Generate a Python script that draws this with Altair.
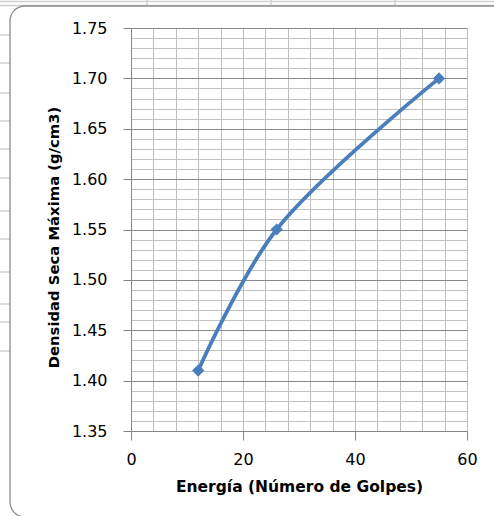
import altair as alt
import pandas as pd

# Data
golpes = [12, 26, 55]
densidad = [1.41, 1.55, 1.70]

x_ticks = [0, 20, 40, 60]
x_minor = [0, 4, 8, 12, 16, 20, 24, 28, 32, 36, 40, 44, 48, 52, 56, 60]
y_ticks = [1.35, 1.40, 1.45, 1.50, 1.55, 1.60, 1.65, 1.70, 1.75]
y_minor = [round(1.35 + 0.01 * i, 2) for i in range(41)]

df = pd.DataFrame({"golpes": golpes, "densidad": densidad})
frame = pd.DataFrame({"k": [0]})

xs = alt.Scale(domain=[0, 60], nice=False, zero=False)
ys = alt.Scale(domain=[1.35, 1.75], nice=False, zero=False)

BLUE = "#4A7EBB"
SHEET = "#d0d0d0"

# --- decorative spreadsheet lines behind the chart (pixel offsets from plot origin) ---
deco = []
for yy in [-26.5, -22.5]:
    deco.append(alt.Chart(frame).mark_rule(color=SHEET, strokeWidth=1.5).encode(
        x=alt.value(-131), x2=alt.value(363), y=alt.value(yy)))
for xx in [16, 140, 264]:
    deco.append(alt.Chart(frame).mark_rule(color=SHEET, strokeWidth=1.5).encode(
        x=alt.value(xx), y=alt.value(-28), y2=alt.value(-22)))
for yy in [35, 63, 93, 121, 149, 178, 211, 239, 272, 304, 322, 351]:
    deco.append(alt.Chart(frame).mark_rule(color=SHEET, strokeWidth=1.5).encode(
        x=alt.value(-131), x2=alt.value(-121), y=alt.value(yy - 28)))

# rounded chart-area frame (its right/bottom sides run past the window edge)
border = alt.Chart(frame).mark_rect(
    fill=None, stroke="#8c8c8c", strokeWidth=1.3, cornerRadius=15
).encode(
    x=alt.value(-121), x2=alt.value(420),
    y=alt.value(-22), y2=alt.value(489),
)

minor = alt.Chart(df).mark_point(opacity=0).encode(
    x=alt.X("golpes:Q", scale=xs, axis=alt.Axis(
        values=x_minor, grid=True, gridColor="#bdbdbd", gridWidth=1,
        labels=False, ticks=False, domain=False, title=None, orient="bottom")),
    y=alt.Y("densidad:Q", scale=ys, axis=alt.Axis(
        values=y_minor, grid=True, gridColor="#c2c2c2", gridWidth=1,
        labels=False, ticks=False, domain=False, title=None, orient="left")),
)

major = alt.Chart(df).mark_point(opacity=0).encode(
    x=alt.X("golpes:Q", scale=xs, axis=alt.Axis(
        values=x_ticks, grid=False, title="Energía (Número de Golpes)",
        tickSize=9, tickColor="#868686", domainColor="#868686",
        labelFlush=False, labelPadding=11,
        titleFontSize=15.5, titleX=168, titleY=55, titleBaseline="middle",
        orient="bottom")),
    y=alt.Y("densidad:Q", scale=ys, axis=alt.Axis(
        values=y_ticks, format=".2f", grid=True, gridColor="#8a8a8a",
        title="Densidad Seca Máxima (g/cm3)",
        tickSize=8, tickColor="#868686", domainColor="#868686",
        labelFlush=False, labelPadding=16,
        titleFontSize=14.8, titleX=-77, titleY=209, titleBaseline="middle",
        orient="left")),
)

line = alt.Chart(df).mark_line(
    interpolate="catmull-rom", color=BLUE, strokeWidth=3.8
).encode(
    x=alt.X("golpes:Q", scale=xs, axis=None),
    y=alt.Y("densidad:Q", scale=ys, axis=None),
)

pts = alt.Chart(df).mark_point(
    shape="diamond", filled=True, size=150, color=BLUE, opacity=1
).encode(
    x=alt.X("golpes:Q", scale=xs, axis=None),
    y=alt.Y("densidad:Q", scale=ys, axis=None),
)

chart = alt.layer(*deco, border, minor, major, line, pts).resolve_axis(
    x="independent", y="independent"
).properties(
    width=336, height=403,
    padding={"left": 131, "top": 28, "right": 27, "bottom": 85},
    autosize=alt.AutoSizeParams(type="none"),
    background="white",
).configure_view(stroke=None).configure_axis(
    labelFont="DejaVu Sans", labelFontSize=16, labelColor="#000000",
    titleFont="DejaVu Sans", titleFontWeight="bold",
    titleColor="#000000",
)

chart.save("out.html", embed_options={"renderer": "svg", "actions": False})
